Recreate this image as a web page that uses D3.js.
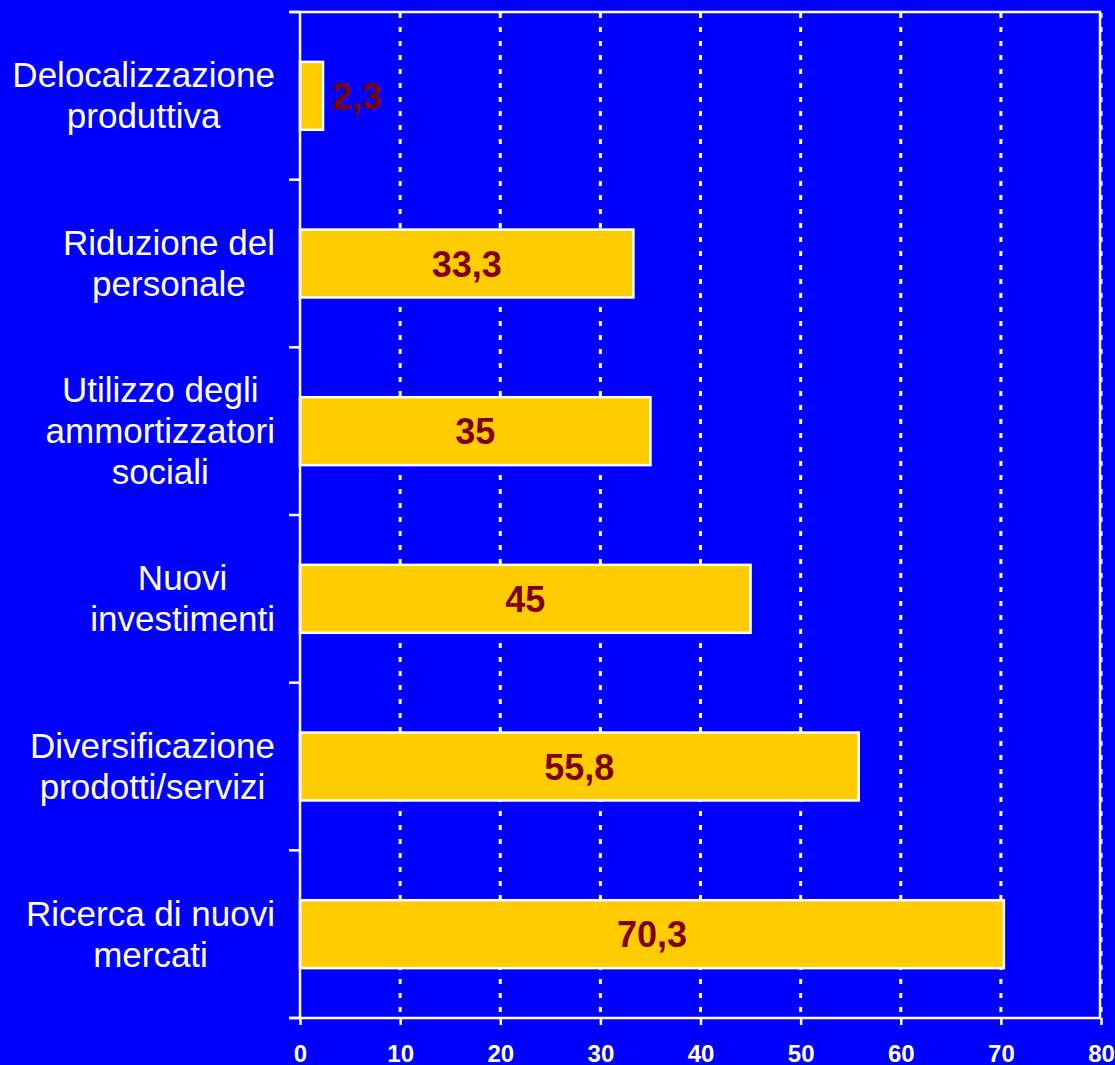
<!DOCTYPE html>
<html>
<head>
<meta charset="utf-8">
<script src="https://cdn.jsdelivr.net/npm/d3@7"></script>
<style>
  html, body { margin: 0; padding: 0; background: #0000FF; }
  svg { display: block; }
</style>
</head>
<body>
<svg id="chart" width="1115" height="1065"></svg>
<script>
// Data (top to bottom, as displayed)
const categories = [
  ["Delocalizzazione", "produttiva"],
  ["Riduzione del", "personale"],
  ["Utilizzo degli", "ammortizzatori", "sociali"],
  ["Nuovi", "investimenti"],
  ["Diversificazione", "prodotti/servizi"],
  ["Ricerca di nuovi", "mercati"]
];
const values = [2.3, 33.3, 35, 45, 55.8, 70.3];
const valueLabels = ["2,3", "33,3", "35", "45", "55,8", "70,3"];
const xTicks = [0, 10, 20, 30, 40, 50, 60, 70, 80];

(function () {
const svg = d3.select("#chart");
const W = 1115, H = 1065;
svg.append("rect").attr("width", W).attr("height", H).attr("fill", "#0000FF");

const pLeft = 300, pRight = 1101, pTop = 12, pBottom = 1018;
const x = d3.scaleLinear().domain([0, 80]).range([pLeft, pRight]);
const idx = d3.range(categories.length);
const y = d3.scaleBand().domain(idx).range([pTop, pBottom]).paddingInner(0.595).paddingOuter(0.2975);
const step = y.step();

// Vertical dotted gridlines
svg.append("g").selectAll("line").data(xTicks.filter(d => d > 0)).join("line")
  .attr("x1", d => x(d)).attr("x2", d => x(d))
  .attr("y1", pTop + 1).attr("y2", pBottom)
  .attr("stroke", "#fff").attr("stroke-width", 3)
  .attr("stroke-dasharray", "5,9");

// Top and right border
svg.append("line").attr("x1", pLeft - 11).attr("x2", pRight).attr("y1", pTop).attr("y2", pTop)
  .attr("stroke", "#fff").attr("stroke-width", 2.5);
svg.append("line").attr("x1", pRight - 1).attr("x2", pRight - 1).attr("y1", pTop).attr("y2", pBottom)
  .attr("stroke", "#fff").attr("stroke-width", 2.5);

// Bars
svg.append("g").selectAll("rect").data(values).join("rect")
  .attr("x", x(0))
  .attr("y", (d, i) => y(i))
  .attr("width", d => x(d) - x(0))
  .attr("height", y.bandwidth())
  .attr("fill", "#FFCC00")
  .attr("stroke", "#fff").attr("stroke-width", 2.5);

// Value labels
svg.append("g").selectAll("text").data(values).join("text")
  .attr("x", d => (x(d) - x(0)) < 80 ? x(d) + 9 : (x(0) + x(d)) / 2)
  .attr("y", (d, i) => y(i) + y.bandwidth() / 2 + 13)
  .attr("text-anchor", d => (x(d) - x(0)) < 80 ? "start" : "middle")
  .attr("font-family", "Liberation Sans, Arial, sans-serif")
  .attr("font-weight", "bold").attr("font-size", 36)
  .attr("fill", "#800000")
  .text((d, i) => valueLabels[i]);

// Y axis line + ticks at band boundaries
svg.append("line").attr("x1", pLeft).attr("x2", pLeft).attr("y1", pTop).attr("y2", pBottom)
  .attr("stroke", "#fff").attr("stroke-width", 2.5);
const boundaries = d3.range(categories.length + 1).map(i => pTop + i * step);
svg.append("g").selectAll("line").data(boundaries).join("line")
  .attr("x1", pLeft - 11).attr("x2", pLeft).attr("y1", d => d).attr("y2", d => d)
  .attr("stroke", "#fff").attr("stroke-width", 2.5);

// X axis
const xAxis = d3.axisBottom(x).tickValues(xTicks).tickSize(7).tickPadding(22).tickSizeOuter(0);
const gx = svg.append("g").attr("transform", `translate(0,${pBottom})`).call(xAxis);
gx.select(".domain").attr("stroke", "#fff").attr("stroke-width", 2.5).attr("d", `M${pLeft - 11},0H${pRight}`);
gx.selectAll(".tick line").attr("stroke", "#fff").attr("stroke-width", 2.5);
gx.selectAll(".tick text").attr("fill", "#fff")
  .attr("font-family", "Liberation Sans, Arial, sans-serif")
  .attr("font-weight", "bold").attr("font-size", 24).attr("dy", null)
  .attr("y", 44);

// Category labels (wrapped, centered lines, block right-aligned)
const labelRight = 275;
const lineH = 41;
categories.forEach((lines, i) => {
  const cy = y(i) + y.bandwidth() / 2;
  const g = svg.append("g");
  const texts = lines.map((ln, j) => g.append("text")
    .attr("y", cy + (j - (lines.length - 1) / 2) * lineH + 12)
    .attr("text-anchor", "middle")
    .attr("font-family", "Liberation Sans, Arial, sans-serif")
    .attr("font-size", 35).attr("fill", "#fff")
    .text(ln));
  const maxW = d3.max(texts, t => t.node().getComputedTextLength());
  texts.forEach(t => t.attr("x", labelRight - maxW / 2));
});
})();
</script>
</body>
</html>
